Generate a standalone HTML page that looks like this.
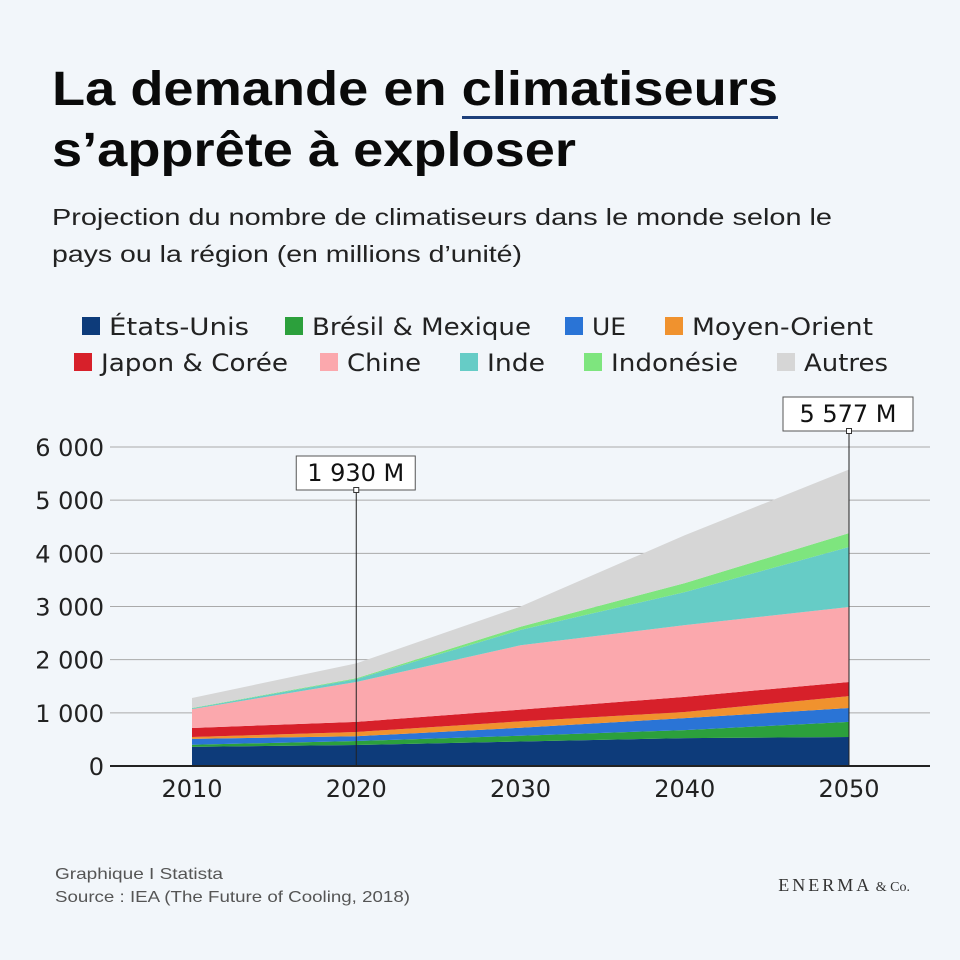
<!DOCTYPE html>
<html><head><meta charset="utf-8"><style>
html,body{margin:0;padding:0;background:#f2f6fa;}
svg{display:block;font-family:"Liberation Sans",sans-serif;}
</style></head><body>
<svg id="chart" width="960" height="960" viewBox="0 0 960 960">
<rect width="960" height="960" fill="#f2f6fa"/>
<text x="52" y="105" font-size="48" font-weight="bold" fill="#0a0a0a" textLength="726" lengthAdjust="spacingAndGlyphs">La demande en climatiseurs</text>
<rect x="462" y="116" width="316" height="3" fill="#1d3f7a"/>
<text x="52" y="166" font-size="48" font-weight="bold" fill="#0a0a0a" textLength="524" lengthAdjust="spacingAndGlyphs">s’apprête à exploser</text>
<text x="52" y="225" font-size="23" fill="#222" textLength="780" lengthAdjust="spacingAndGlyphs">Projection du nombre de climatiseurs dans le monde selon le</text>
<text x="52" y="262" font-size="23" fill="#222" textLength="470" lengthAdjust="spacingAndGlyphs">pays ou la région (en millions d’unité)</text>
<g id="legend"></g>
<g id="grid"></g>
<g id="areas"></g>
<g id="axes"></g>
<g id="annot"></g>
<text x="55" y="879" font-size="16" fill="#555" textLength="168" lengthAdjust="spacingAndGlyphs">Graphique I Statista</text>
<text x="55" y="902" font-size="16" fill="#555" textLength="355" lengthAdjust="spacingAndGlyphs">Source : IEA (The Future of Cooling, 2018)</text>
<text x="910" y="891" font-size="18" fill="#333" text-anchor="end" font-family="Liberation Serif, serif" letter-spacing="3">ENERMA<tspan font-size="14" letter-spacing="0"> &amp; Co.</tspan></text>
</svg>
<script>
const years=[2010,2020,2030,2040,2050];
const seriesNames=["États-Unis","Brésil & Mexique","UE","Moyen-Orient","Japon & Corée","Chine","Inde","Indonésie","Autres"];
const seriesColors=["#0d3b7a","#2ca03c","#2a74d6","#f0922e","#d7202a","#fba8ad","#66ccc6","#7ee57e","#d6d6d6"];
const usa=[360,395,460,525,545];
const bresil=[40,75,110,150,285];
const ue=[110,90,150,225,260];
const moyenOrient=[35,80,120,115,225];
const japon=[170,190,220,285,265];
const chine=[355,750,1210,1350,1410];
const inde=[15,55,290,620,1130];
const indonesie=[5,15,60,170,260];
const autres=[190,280,380,900,1197];
const yTicks=[0,1000,2000,3000,4000,5000,6000];
const yTickLabels=["0","1 000","2 000","3 000","4 000","5 000","6 000"];
const annotYears=[2020,2050];
const annotLabels=["1 930 M","5 577 M"];

const NS="http://www.w3.org/2000/svg";
const DJ='"DejaVu Sans","Liberation Sans",sans-serif';
function mk(t,a,p){const e=document.createElementNS(NS,t);for(const k in a)e.setAttribute(k,a[k]);p.appendChild(e);return e;}
const X=y=>192+(y-2010)*(849-192)/40;
const Y=v=>766-v*(766-447)/6000;
const series=[usa,bresil,ue,moyenOrient,japon,chine,inde,indonesie,autres];

// legend
const lg=document.getElementById('legend');
const legPos=[[82,326],[285,326],[565,326],[665,326],[74,362],[320,362],[460,362],[584,362],[777,362]];
const legW=[140,219,34,181,187,74,58,127,84];
seriesNames.forEach((n,i)=>{
  const g=mk('g',{},lg);
  
  
  const [lx,ly]=legPos[i];
  mk('rect',{x:lx,y:ly-9,width:18,height:18,fill:seriesColors[i]},g);
  const t=mk('text',{x:lx+27,y:ly+9,'font-size':24,fill:'#222','font-family':DJ,textLength:legW[i],lengthAdjust:'spacingAndGlyphs'},g);
  t.textContent=n;
});

// grid
const gr=document.getElementById('grid');
yTicks.forEach((v,i)=>{
  if(v>0){const l=mk('line',{x1:110,x2:930,y1:Y(v),y2:Y(v),stroke:'#aaa','stroke-width':1},gr);
  
  }
  const t=mk('text',{x:104,y:Y(v)+9,'font-size':24,fill:'#222','text-anchor':'end','font-family':DJ},gr);
  
  
  t.textContent=yTickLabels[i];
});

// areas
const ar=document.getElementById('areas');
let base=years.map(()=>0);
series.forEach((s,i)=>{
  const top=base.map((b,j)=>b+s[j]);
  let d='M'+years.map((y,j)=>X(y)+','+Y(top[j])).join(' L');
  for(let j=years.length-1;j>=0;j--)d+=' L'+X(years[j])+','+Y(base[j]);
  const p=mk('path',{d:d+'Z',fill:seriesColors[i]},ar);
  
  
  base=top;
});

// axes
const ax=document.getElementById('axes');
const al=mk('line',{x1:110,x2:930,y1:766,y2:766,stroke:'#222','stroke-width':2},ax);


years.forEach(y=>{
  const t=mk('text',{x:X(y),y:797,'font-size':24,fill:'#222','text-anchor':'middle','font-family':DJ},ax);
  
  
  t.textContent=y;
});

// annotations
const an=document.getElementById('annot');
annotYears.forEach((y,i)=>{
  const x=X(y);
  const yTop=i==0?490:431;
  const l=mk('line',{x1:x,x2:x,y1:yTop,y2:766,stroke:'#222','stroke-width':1},an);
  
  
  const w=i==0?119:130;
  const bx=i==0?x-60:x-66;
  const r=mk('rect',{x:bx,y:yTop-34,width:w,height:34,fill:'#fff',stroke:'#555','stroke-width':1},an);
  
  
  mk('rect',{x:x-2.5,y:yTop-2.5,width:5,height:5,fill:'#fff',stroke:'#333','stroke-width':1},an);
  const t=mk('text',{x:bx+w/2,y:yTop-9,'font-size':24,fill:'#111','text-anchor':'middle','font-family':DJ,'font-weight':'500'},an);
  
  
  t.textContent=annotLabels[i];
});
</script>
</body></html>
